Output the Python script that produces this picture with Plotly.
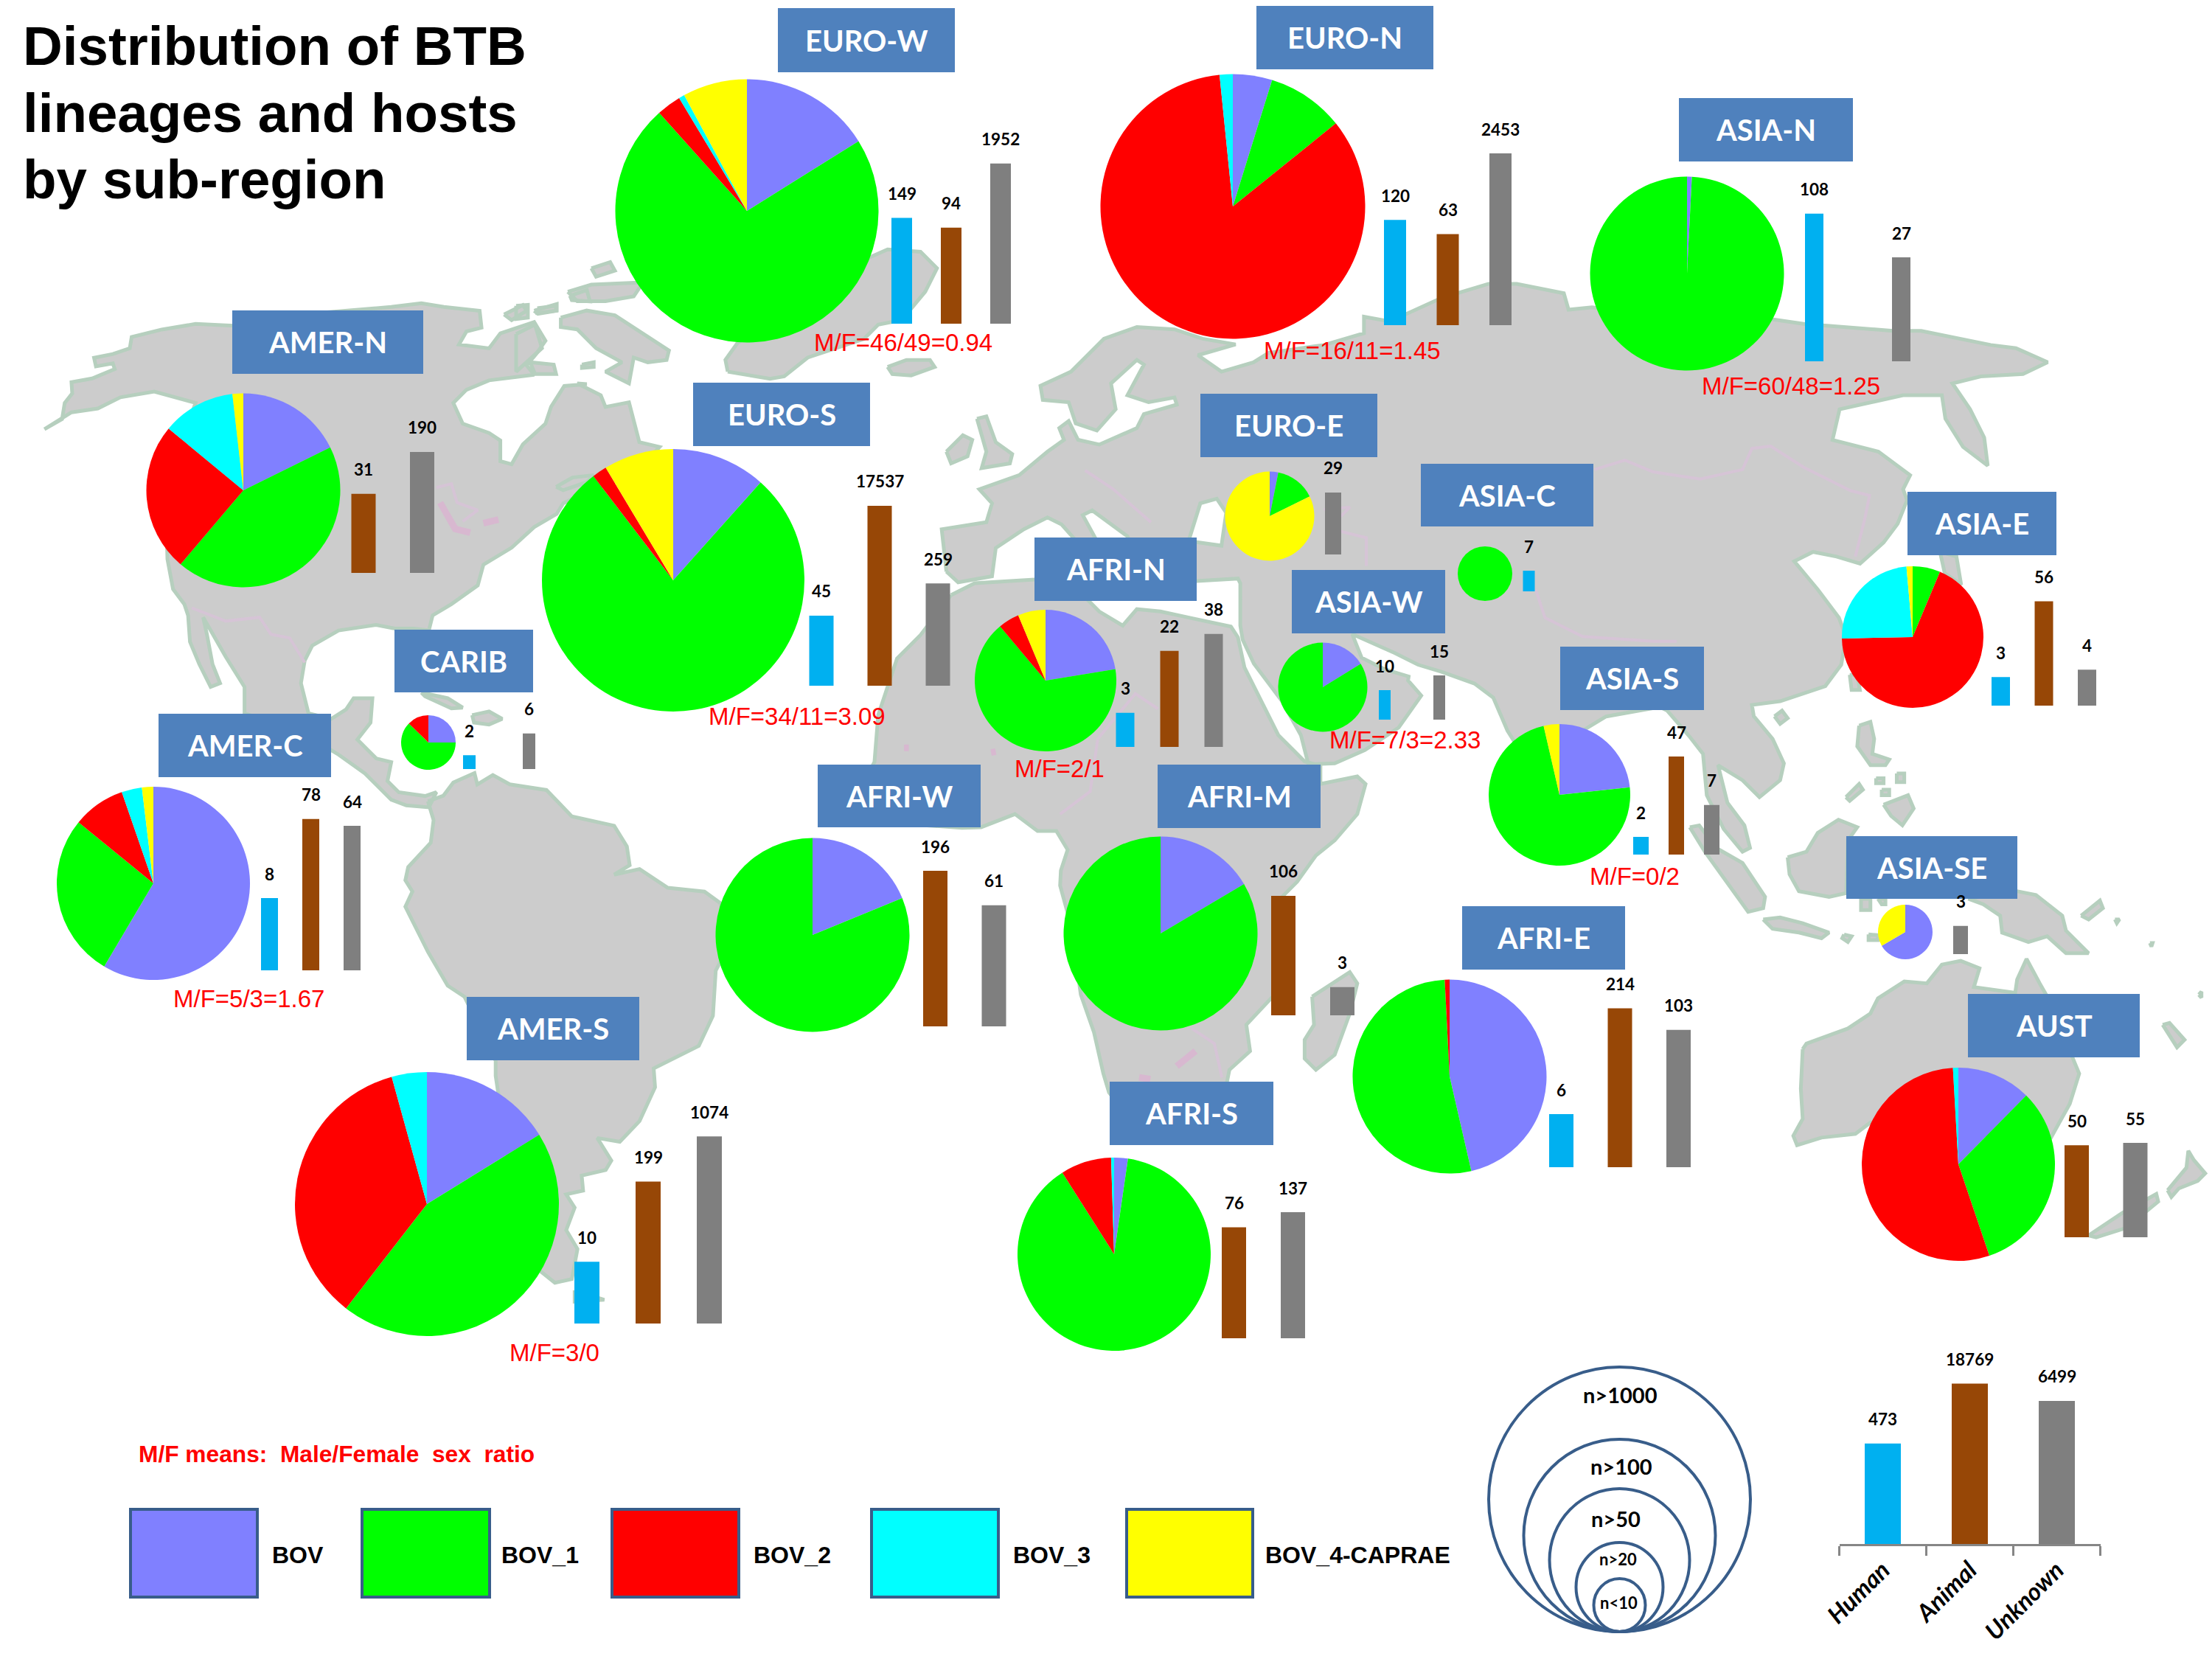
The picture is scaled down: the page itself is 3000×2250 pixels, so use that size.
import math
import plotly.graph_objects as go

# ------------------------------------------------------------------ data
regions = ["AMER-N","EURO-W","EURO-N","ASIA-N","EURO-S","EURO-E","ASIA-C","ASIA-E","AFRI-N","ASIA-W",
           "CARIB","AMER-C","AFRI-W","AFRI-M","ASIA-S","ASIA-SE","AFRI-E","AFRI-S","AUST","AMER-S"]
lineages = ["BOV","BOV_1","BOV_2","BOV_3","BOV_4-CAPRAE"]
bov   = [17.7,16.1, 4.8, 0.8,11.6, 3.1,  0, 0,22.4,16.2,25.0,58.5,18.8,16.5,23.3,66.6,46.4, 2.3,12.4,16.2]
bov_1 = [43.5,72.2, 9.4,99.2,78.0,14.6,100,6.3,66.4,83.8,62.3,27.4,81.2,83.5,73.1, 0,52.8,88.7,32.4,44.3]
bov_2 = [24.8, 3.0,84.2, 0, 1.8, 0, 0,68.3, 4.8, 0,12.7, 8.8, 0, 0, 0, 0, 0.8, 8.5,54.3,35.2]
bov_3 = [12.2, 0.7, 1.6, 0, 0, 0, 0,23.9, 0, 0, 0, 3.4, 0, 0, 0, 0, 0, 0.5, 0.9, 4.3]
bov_4 = [ 1.8, 7.9, 0, 0, 8.6,82.3, 0, 1.4, 6.3, 0, 0, 1.9, 0, 0, 3.6,33.4, 0, 0, 0, 0]

hosts   = ["Human","Animal","Unknown"]
human   = [None,149,120,108,45,None,7,3,3,10,2,8,None,None,2,None,6,None,None,10]
animal  = [31,94,63,None,17537,None,None,56,22,None,None,78,196,106,47,None,214,76,50,199]
unknown = [190,1952,2453,27,259,29,None,4,38,15,6,64,61,3,7,3,103,137,55,1074]
total_hosts = [473,18769,6499]

mf_labels = ["M/F=46/49=0.94","M/F=16/11=1.45","M/F=60/48=1.25","M/F=34/11=3.09","M/F=2/1",
             "M/F=7/3=2.33","M/F=0/2","M/F=5/3=1.67","M/F=3/0"]
size_labels = ["n>1000","n>100","n>50","n>20","n<10"]
title_lines = ["Distribution of BTB","lineages and hosts","by sub-region"]
mf_note = "M/F means:  Male/Female  sex  ratio"

# ------------------------------------------------------------------ layout tables (pixels of the 3000x2250 page)
PIE_GEOM = {"AMER-N":(330,665,131.5),"EURO-W":(1013,286,178.5),"EURO-N":(1672,280,179.5),"ASIA-N":(2288,371,131.5),
 "EURO-S":(913,787,178),"EURO-E":(1722,700,60.5),"ASIA-C":(2014,778,37),"ASIA-E":(2594,864,96),"AFRI-N":(1418,923,96),
 "ASIA-W":(1794,932,60.5),"CARIB":(581,1007,37),"AMER-C":(208,1198,131),"AFRI-W":(1102,1268,131.5),"AFRI-M":(1574,1266,131.5),
 "ASIA-S":(2115,1078,96),"ASIA-SE":(2584,1264,37),"AFRI-E":(1966,1460,131.5),"AFRI-S":(1511,1701,131),"AUST":(2656,1579,131),
 "AMER-S":(579,1633,179)}
BOX_GEOM = {"AMER-N":(315,574,421,507),"EURO-S":(940,1180,519,605),"CARIB":(535,723,854,939),"AMER-C":(215,449,968,1054),
 "AFRI-W":(1109,1330,1037,1122),"AFRI-N":(1403,1623,729,815),"EURO-E":(1628,1868,534,620),"ASIA-C":(1927,2161,629,714),
 "ASIA-E":(2587,2789,667,753),"ASIA-W":(1752,1960,773,859),"ASIA-S":(2116,2311,877,963),"AFRI-M":(1570,1791,1037,1123),
 "ASIA-SE":(2504,2736,1134,1219),"AFRI-E":(1983,2204,1229,1315),"AMER-S":(633,867,1352,1438),"AFRI-S":(1505,1727,1467,1553),
 "AUST":(2669,2902,1348,1434),"EURO-W":(1055,1295,11,98),"EURO-N":(1704,1944,8,94),"ASIA-N":(2277,2513,133,219)}
# first-category centre, category spacing, bar width, baseline, pixels per decade (or per unit when linear)
BAR_GEOM = {"AMER-N":(413.5,79.5,33,777,72),"EURO-W":(1223,67,28,439,66),"EURO-N":(1892,71.5,30,441,68.7),
 "ASIA-N":(2460.5,59,25,490,98.5),"EURO-S":(1114,79,33,930,57.5),"EURO-E":(1728,40,22,752,57.5),"ASIA-C":(2073.5,40,16,802,33),
 "ASIA-E":(2713.5,58.5,25,957,81),"AFRI-N":(1526,60,25,1013,97),"ASIA-W":(1878,37,16,976,4),"CARIB":(636.5,40.5,17,1043,62),
 "AMER-C":(365.5,56,23,1316,108.5),"AFRI-W":(1189,79.5,33,1392,92),"AFRI-M":(1660.5,80,33,1377,80),"ASIA-S":(2225.5,48,21,1159,79.5),
 "ASIA-SE":(2579,40,20,1294,80),"AFRI-E":(2117.5,79.5,33,1583,92.5),"AFRI-S":(1593.5,80,33,1815,80),"AUST":(2737,79.5,33,1678,73.5),
 "AMER-S":(796,83,34,1795,83.7)}
LINEAR_BARS = {"ASIA-W"}
MF_POS = [(1225,464),(1834,475),(2429,523),(1081,971),(1437,1042),(1905,1003),(2217,1188),(337,1354),(752,1834)]
LEGEND_BOX = [(177,349),(491,664),(830,1002),(1182,1354),(1528,1699)]
LEGEND_TX = [368,679,1021,1373,1715]
SIZE_R = [(177.5,179.5),(130,130.5),(95,97),(59,60.5),(35,36)]
SIZE_TX = [(2197,1891,29),(2199,1988,29),(2191,2059,29),(2194,2114,22),(2195,2173,22)]

W, H = 3000, 2250
LINEAGE_COL = ["#8080FF","#00FF00","#FF0000","#00FFFF","#FFFF00"]
HOST_COL = ["#00B0F0","#974706","#7F7F7F"]
BOX_COL = "#4F81BD"
EDGE = "#385D8A"
FONT_B = "Lato"
FONT_A = "Liberation Sans"

# ------------------------------------------------------------------ map background
Z2=(1500,300,1.0453,1.568); Z5=(0,350,1.96,1.96); Z6=(500,1000,2.613,1.96); Z7=(700,300,1.568,1.568)
Z8=(1300,900,1.96,1.96); Z9=(1700,200,1.568,1.568); Z10=(2200,900,1.96,1.96)
def c(z, pts):
    return [(z[0]+p[0]/z[2], z[1]+p[1]/z[3]) for p in pts]

north_america = c(Z5,[(118,455),(165,428),(172,385),(192,360),(190,330),(245,320),(305,295),(300,280),(255,288),(250,265),(300,255),(345,240),(350,210),(430,190),(520,175),(620,180),(800,150),(1040,130),(1120,120),(1180,130),(1275,140),(1280,185),(1240,195),(1220,230),(1300,240),(1330,200),(1420,170),(1450,220),(1425,255),(1400,285),(1420,310),(1300,325),(1240,350),(1205,385),(1230,440),(1300,465),(1330,485),(1330,540),(1360,548),(1390,495),(1450,440),(1465,395),(1500,340),(1560,335)]) \
 + c(Z7,[(130,345),(180,370),(190,395),(240,385),(262,470),(305,480),(250,540),(160,570),(100,600)]) \
 + c(Z5,[(1480,680),(1420,715),(1360,770),(1285,815),(1270,870),(1200,920),(1150,950),(1140,990),(1100,985),(1050,985),(1000,975),(900,990),(830,1030),(810,1070),(800,1130),(820,1210),(880,1225),(920,1200),(940,1170),(990,1170),(985,1235),(950,1280),(1000,1330),(1040,1340),(1030,1390),(1060,1420),(1130,1430),(1160,1420),(1140,1460),(1080,1455),(1040,1440),(970,1370),(900,1320),(800,1260),(650,1210),(650,1140),(600,1060),(560,990),(540,955),(550,1000),(565,1080),(585,1130),(560,1140),(530,1080),(505,1020),(500,950),(490,920),(460,880),(445,800),(440,600),(520,385),(410,355),(320,370),(260,400),(190,410)])
south_america = c(Z6,[(210,170),(265,155),(300,120),(375,95),(385,125),(440,100),(500,125),(630,140),(720,210),(870,235),(915,290),(925,340),(870,365),(960,350),(1060,400),(1190,410),(1245,440),(1300,520),(1230,620),(1220,740),(1170,820),(1010,880),(1015,930),(960,1020),(890,1075),(810,1065),(860,1125),(840,1150),(755,1165),(760,1205),(700,1215),(730,1250),(700,1310),(740,1360),(720,1440),(660,1450),(610,1420),(520,1250),(450,900),(450,860),(340,690),(280,660),(210,570),(130,450),(155,410),(130,380),(140,345),(220,280),(230,220)])
fuego = c(Z6,[(730,1470),(835,1495),(730,1500)])
caribbean = [c(Z5,[(1120,1155),(1190,1170),(1230,1195),(1200,1197),(1130,1165)]),
 c(Z5,[(1255,1215),(1300,1205),(1335,1225),(1300,1240),(1260,1235)])]
greenland = c(Z7,[(450,320),(445,295),(470,260),(550,200),(700,100),(790,60),(860,65),(895,100),(870,150),(820,210),(770,220),(740,250),(620,290),(570,330),(540,335)])
iceland = c(Z7,[(790,310),(830,295),(880,295),(890,310),(840,328),(800,325)])
arctic = [c(Z5,[(1340,150),(1390,125),(1400,140),(1360,165)]), c(Z5,[(1420,140),(1480,122),(1480,140),(1430,148)]),
 c(Z5,[(1515,100),(1560,85),(1568,115),(1520,112)]), c(Z7,[(0,240),(40,220),(55,270),(0,320)]),
 c(Z7,[(110,150),(160,135),(270,130),(250,160),(190,170),(130,170)]), c(Z7,[(160,100),(200,87),(210,105),(170,118)]),
 c(Z7,[(95,205),(150,190),(210,200),(270,240),(325,275),(320,295),(280,300),(250,290),(240,345),(190,320),(225,300),(170,270),(130,230),(95,225)]),
 c(Z7,[(30,300),(80,305),(85,325),(40,325)]), c(Z7,[(140,305),(165,300),(165,310),(140,312)]),
 c(Z7,[(0,180),(25,178),(25,205),(0,208)]), c(Z7,[(45,185),(85,180),(85,190),(45,195)]),
 c(Z7,[(85,565),(120,545),(165,540),(150,555),(100,572)])]
britain = c(Z7,[(980,420),(1000,415),(1020,470),(1055,495),(1050,515),(990,525),(1000,490)])
ireland = c(Z7,[(915,490),(950,455),(970,465),(960,500),(925,515)])
eurasia = c(Z7,[(915,745),(905,655),(1000,640),(1012,600),(985,570),(1070,540),(1130,490),(1165,465),(1155,440),(1175,425),(1195,465),(1240,475),(1320,440),(1335,410),(1405,390),(1400,375),(1345,385),(1300,370),(1335,305),(1320,295),(1265,345),(1275,400),(1235,445),(1190,430),(1175,385),(1120,380),(1115,350),(1180,320),(1250,250),(1320,225),(1400,230),(1460,250),(1530,262),(1450,285),(1500,320),(1568,300),(1600,280)]) \
 + c(Z9,[(150,420),(235,395),(235,360),(290,370),(400,320),(500,290),(560,290),(660,310),(670,345),(720,340),(800,350),(1100,365),(1170,375),(1360,390),(1420,390),(1568,420)]) \
 + c(Z2,[(1290,270),(1335,300),(1300,325),(1240,330),(1200,345),(1225,400),(1245,460),(1250,520),(1215,480),(1190,420),(1185,370),(1130,370),(1040,400),(1030,465),(1095,490),(1140,540),(1130,570)]) \
 + c(Z9,[(1390,750),(1370,800),(1340,840),(1290,885),(1240,870),(1190,860),(1150,880),(1200,940),(1245,1000),(1260,1040),(1250,1100)]) \
 + c(Z10,[(540,60),(420,100),(345,110),(350,140),(400,200),(430,265),(420,310),(365,355),(320,310),(255,270),(280,370),(325,430),(340,490),(320,500),(270,440),(225,350),(215,240),(180,195),(120,125),(100,115)]) \
 + c(Z9,[(750,1210),(700,1240),(640,1400),(540,1240),(510,1170),(470,1140),(400,1115),(350,1100),(300,1075),(210,1035),(230,1085),(280,1110),(330,1125)]) \
 + c(Z8,[(1195,45),(1230,85),(1170,170),(1080,230),(1000,265),(930,268),(910,190),(860,100),(785,0)]) \
 + c(Z7,[(1545,890),(1540,860),(1540,770),(1535,760),(1447,765),(1380,800),(1320,720),(1300,670),(1225,615),(1205,625),(1235,680),(1290,770),(1250,770),(1200,690),(1160,645),(1130,630),(1080,655),(1020,695),(1012,755),(940,768)])
africa = c(Z7,[(925,795),(975,770),(1102,762),(1200,790),(1240,830),(1290,860),(1320,825),(1370,830),(1440,845),(1520,862),(1535,885)]) \
 + c(Z8,[(760,10),(810,110),(850,190),(920,260),(962,272),(962,320),(1060,300),(1082,320),(1060,400),(1000,470),(950,510),(900,580),(860,620),(840,880),(765,960),(775,1030),(720,1080),(710,1130),(650,1250),(500,1270),(400,1140),(385,1090),(360,980),(325,880),(300,700),(270,590),(272,550),(290,495),(260,445),(210,445),(150,400),(60,435)]) \
 + c(Z7,[(948,1290),(800,1280),(735,1200),(762,1150),(770,1050),(810,930),(860,880)])
madagascar = c(Z8,[(940,885),(1040,820),(1060,850),(1040,930),(1000,1040),(950,1080),(920,1050),(920,1000),(945,960)])
asia_islands = [c(Z10,p) for p in [
 [(405,140),(425,125),(440,145),(420,160)], [(605,30),(625,30),(632,70),(610,70)],
 [(630,165),(660,155),(670,200),(665,240),(710,255),(700,270),(660,270),(625,220)],
 [(695,375),(760,350),(775,385),(745,430),(715,405)], [(595,355),(630,320),(640,335),(605,365)],
 [(675,305),(695,305),(695,318),(675,318)], [(730,292),(750,292),(750,315),(730,315)], [(690,335),(710,335),(710,350),(690,350)],
 [(440,515),(490,500),(520,450),(575,415),(625,435),(600,470),(596,610),(550,620),(470,605),(445,560)],
 [(180,435),(205,430),(250,490),(320,530),(380,620),(375,650),(335,660),(270,570),(220,500)],
 [(375,680),(420,675),(480,690),(550,715),(530,730),(470,715),(400,705)],
 [(590,720),(610,725),(600,740),(585,730)], [(655,720),(680,722),(680,735),(655,735)],
 [(635,625),(660,625),(660,655),(635,655)], [(680,625),(700,625),(700,640),(690,640)],
 [(920,625),(1050,605),(1100,615),(1170,670),(1180,710),(1240,770),(1180,770),(1130,725),(1080,740),(1010,715),(1005,670),(960,640)],
 [(1220,670),(1270,630),(1278,650),(1240,680)], [(1310,680),(1322,680),(1315,690)],[(1403,743),(1410,743),(1407,752)],
 [(1533,880),(1540,872),(1540,888)],
 [(480,1025),(490,1010),(600,970),(660,930),(680,890),(750,845),(810,850),(850,800),(900,790),(950,810),(935,860),(1045,875),(1050,840),(1075,785),(1110,850),(1130,885),(1215,1090),(1190,1170),(1140,1260),(900,1250),(660,1220),(620,1250),(530,1260),(465,1280),(455,1255),(480,1210),(475,1130)],
 [(1240,1520),(1330,1460),(1420,1410),(1425,1430),(1340,1500),(1260,1525)],
 [(1450,1400),(1500,1340),(1505,1295),(1520,1320),(1550,1355),(1530,1375),(1480,1395),(1460,1418)],
 [(1437,960),(1455,955),(1495,1000),(1475,1020)]]]
japan = c(Z9,[(1460,860),(1495,870),(1505,930),(1470,905)])
land_polys = [north_america,south_america,fuego,greenland,iceland,britain,ireland,eurasia,africa,madagascar,japan]+arctic+caribbean+asia_islands
sea_polys = [c(Z7,[(1430,680),(1455,600),(1490,590),(1510,620),(1500,690)])]
border_lines = [
 c(Z5,[(510,930),(600,965),(690,955),(720,1000),(770,1010),(810,1075)]),
 c(Z5,[(1160,610),(1200,600),(1215,650),(1270,670),(1230,700)]),
 c(Z9,[(725,685),(790,665),(850,690),(950,705),(1040,685),(1060,640),(1100,635),(1170,680),(1270,730),(1310,740),(1300,790),(1280,870)]),
 c(Z9,[(600,940),(620,1000),(700,1040),(850,1050),(900,1050)]),
 c(Z9,[(150,770),(205,765),(160,810),(240,830),(240,890)]),
 c(Z7,[(1210,530),(1270,570),(1350,640)]),
 c(Z8,[(530,120),(470,80),(370,200),(350,340),(270,400)]),
 c(Z8,[(620,970),(680,1010),(700,1100)])]
pink_lakes = [c(Z5,[(1170,650),(1210,720),(1250,730)]), c(Z5,[(1285,705),(1325,695)]), c(Z8,[(580,1070),(630,1030)]),
 c(Z8,[(480,1100),(510,1105)]), c(Z7,[(825,1120),(835,1120)]), c(Z7,[(1010,1130),(1020,1128)])]

def flat(polys):
    xs, ys = [], []
    for p in polys:
        q = p + [p[0]]
        xs += [a for a, _ in q] + [None]
        ys += [b for _, b in q] + [None]
    return xs, ys
def flat_open(lines):
    xs, ys = [], []
    for p in lines:
        xs += [a for a, _ in p] + [None]
        ys += [b for _, b in p] + [None]
    return xs, ys

# ------------------------------------------------------------------ figure
fig = go.Figure()
lx, ly = flat(land_polys)
fig.add_trace(go.Scatter(x=lx, y=ly, mode="lines", fill="toself", fillcolor="#CCCCCC",
                         line=dict(color="#B6CFBE", width=5), hoverinfo="skip", showlegend=False))
sx, sy = flat(sea_polys)
fig.add_trace(go.Scatter(x=sx, y=sy, mode="lines", fill="toself", fillcolor="#FFFFFF",
                         line=dict(color="#B6CFBE", width=5), hoverinfo="skip", showlegend=False))
bx, by = flat_open(border_lines)
fig.add_trace(go.Scatter(x=bx, y=by, mode="lines", line=dict(color="#D6C4D6", width=4), hoverinfo="skip", showlegend=False))
px_, py_ = flat_open(pink_lakes)
fig.add_trace(go.Scatter(x=px_, y=py_, mode="lines", line=dict(color="#D8B8D0", width=9), hoverinfo="skip", showlegend=False))

layout = dict(
    width=W, height=H, margin=dict(l=0, r=0, t=0, b=0, autoexpand=False), autosize=False,
    paper_bgcolor="white", plot_bgcolor="rgba(0,0,0,0)", showlegend=False, hovermode=False,
    xaxis=dict(range=[0, W], visible=False, domain=[0, 1], fixedrange=True),
    yaxis=dict(range=[H, 0], visible=False, domain=[0, 1], fixedrange=True),
)
annotations, shapes = [], []

def txt(x, y, t, size, color="black", family=FONT_B, anchor="center"):
    annotations.append(dict(x=x, y=y, xref="x", yref="y", text=t, showarrow=False, xanchor=anchor, yanchor="middle",
                            font=dict(size=size, color=color, family=family), borderpad=0))

axis_id = 2
def bar_panel(vals, geom, linear=False, show_axis=False):
    global axis_id
    c0, sp, w, base, scale = geom
    n = axis_id
    axis_id += 1
    present = [v for v in vals if v is not None]
    top = max(present) * 1.05 if linear else math.log10(max(present)) * 1.05
    h = top * scale
    xa = dict(domain=[(c0 - sp/2)/W, (c0 + 2.5*sp)/W], range=[-0.5, 2.5], type="category",
              categoryorder="array", categoryarray=hosts, anchor=f"y{n}", fixedrange=True, visible=False)
    ya = dict(domain=[1 - base/H, 1 - (base - h)/H], anchor=f"x{n}", fixedrange=True, visible=False,
              type="linear" if linear else "log", range=[0, top])
    if show_axis:
        xa.update(visible=True, showline=True, linecolor="#868686", linewidth=3, ticks="outside", tickson="boundaries",
                  tickcolor="#868686", tickwidth=3, ticklen=13, tickangle=-45, showgrid=False,
                  tickfont=dict(family=FONT_B, size=33, color="#000000", style="italic", weight=700))
    layout[f"xaxis{n}"] = xa
    layout[f"yaxis{n}"] = ya
    xs = [hosts[i] for i, v in enumerate(vals) if v is not None]
    ys = [v for v in vals if v is not None]
    cols = [HOST_COL[i] for i, v in enumerate(vals) if v is not None]
    fig.add_trace(go.Bar(x=xs, y=ys, width=w/sp, marker=dict(color=cols, line=dict(width=0)),
                         xaxis=f"x{n}", yaxis=f"y{n}", hoverinfo="skip", showlegend=False))
    for x_, v in zip(xs, ys):
        annotations.append(dict(x=x_, y=v if linear else math.log10(v), xref=f"x{n}", yref=f"y{n}", text=f"<b>{v}</b>",
                                showarrow=False, yanchor="middle", xanchor="center", yshift=33,
                                font=dict(size=22.5, color="black", family=FONT_B)))

for i, r in enumerate(regions):
    cx, cy, rad = PIE_GEOM[r]
    fig.add_trace(go.Pie(labels=lineages, values=[bov[i], bov_1[i], bov_2[i], bov_3[i], bov_4[i]],
                         sort=False, direction="clockwise", rotation=0, textinfo="none", hoverinfo="skip",
                         marker=dict(colors=LINEAGE_COL, line=dict(width=0)), showlegend=False,
                         domain=dict(x=[(cx-rad)/W, (cx+rad)/W], y=[1-(cy+rad)/H, 1-(cy-rad)/H])))
    bar_panel([human[i], animal[i], unknown[i]], BAR_GEOM[r], linear=r in LINEAR_BARS)
    x0, x1, y0, y1 = BOX_GEOM[r]
    shapes.append(dict(type="rect", x0=x0, x1=x1, y0=y0, y1=y1, xref="x", yref="y", fillcolor=BOX_COL, line=dict(width=0), layer="above"))
    txt((x0+x1)/2, (y0+y1)/2, f"<b>{r}</b>", 40, "white")

bar_panel(total_hosts, (2553.5, 118, 49, 2094, 50.9), show_axis=True)

for t, (x, y) in zip(mf_labels, MF_POS):
    txt(x, y, t, 33, "#FF0000", FONT_A)
for t, y in zip(title_lines, [62, 153, 243]):
    txt(30, y, f"<b>{t}</b>", 74.5, "black", FONT_A, "left")
txt(187, 1972, f"<b>{mf_note}</b>", 31.7, "#FF0000", FONT_A, "left")

for (x0, x1), col, tx, name in zip(LEGEND_BOX, LINEAGE_COL, LEGEND_TX, lineages):
    shapes.append(dict(type="rect", x0=x0, x1=x1, y0=2047, y1=2166, xref="x", yref="y", fillcolor=col,
                       line=dict(color=EDGE, width=4), layer="above"))
    txt(tx, 2109, f"<b>{name}</b>", 32, "black", FONT_A, "left")

for (rx, ry), name, (tx, ty, ts) in zip(SIZE_R, size_labels, SIZE_TX):
    shapes.append(dict(type="circle", x0=2196.5-rx, x1=2196.5+rx, y0=2213-2*ry, y1=2213, xref="x", yref="y",
                       line=dict(color=EDGE, width=4), fillcolor="rgba(0,0,0,0)", layer="above"))
    txt(tx, ty, f"<b>{name.replace('<','&lt;').replace('>','&gt;')}</b>", ts)

layout["annotations"] = annotations
layout["shapes"] = shapes
fig.update_layout(**layout)
fig.write_html("out.html", config={"displayModeBar": False, "responsive": False},
               post_script="document.body.style.margin='0';document.body.style.padding='0';")
